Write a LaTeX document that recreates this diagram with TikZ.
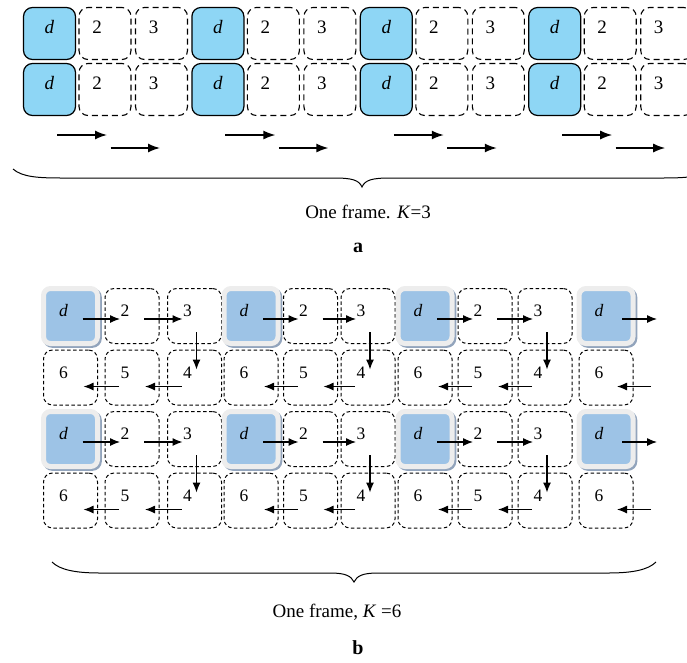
\documentclass[tikz,border=0pt]{standalone}
\usepackage{fontspec}
\setmainfont{Liberation Serif}
\usetikzlibrary{arrows.meta, positioning}

\definecolor{skyA}{HTML}{8ED6F5}
\definecolor{blueB}{HTML}{9DC3E6}
\definecolor{frameB}{HTML}{EDEDED}
\definecolor{shadeB}{HTML}{92A4BC}

\newcommand\sizeA{\fontsize{19}{19}\selectfont}
\newcommand\sizeB{\fontsize{17.5}{17.5}\selectfont}

\tikzset{
	tagA/.style 2 args={label={[xshift=#1,yshift=6.5pt,font=\sizeA]center:#2}},
	tagB/.style={label={[xshift=-7pt,yshift=5pt,font=\sizeB]center:#1}},
	dcellA/.style={rectangle, rounded corners=9pt, draw, line width=1.2pt, fill=skyA, minimum size=52pt},
	slotA/.style={rectangle, rounded corners=9pt, draw, dash pattern=on 6pt off 4pt, line width=1.1pt, minimum size=52pt},
	dcellB/.style={rectangle, rounded corners=7pt, draw=frameB, line width=5pt, fill=blueB, minimum width=54pt, minimum height=55pt,
		preaction={draw=shadeB, line width=5pt, transform canvas={xshift=1.8pt,yshift=-1.8pt}}},
	slotB/.style={rectangle, rounded corners=9pt, draw, dash pattern=on 3.5pt off 2.5pt, line width=1pt, minimum width=54pt, minimum height=55pt},
	kindd/.style={dcellB, tagB=\textit{d}},
	kind2/.style={slotB, tagB=2}, kind3/.style={slotB, tagB=3}, kind4/.style={slotB, tagB=4},
	kind5/.style={slotB, tagB=5}, kind6/.style={slotB, tagB=6},
	flowA/.style={-{Latex[length=12pt,width=9pt]}, line width=1.5pt},
	flowB/.style={-{Latex[length=10pt,width=8pt]}, line width=1.2pt},
	braceline/.style={line width=1pt}
}

\begin{document}
\begin{tikzpicture}[x=1pt, y=-1pt]
	\useasboundingbox (0,0) rectangle (687,662);
	\clip (0,0) rectangle (687,662);

	% part a: K=3
	\foreach \g in {0,...,3} {
		\pgfmathsetmacro\gx{168.4*\g}
		\node[dcellA, tagA={0pt}{\textit{d}}] (dT\g) at (49.5+\gx,33.5) {};
		\node[slotA, tagA={-8pt}{2}] (pT\g) at (105+\gx,33.5) {};
		\node[slotA, tagA={-8pt}{3}] (qT\g) at (161.5+\gx,33.5) {};
		\node[dcellA, tagA={0pt}{\textit{d}}] (dB\g) at (49.5+\gx,89.5) {};
		\node[slotA, tagA={-8pt}{2}] (pB\g) at (105+\gx,89.5) {};
		\node[slotA, tagA={-8pt}{3}] (qB\g) at (161.5+\gx,89.5) {};
		\draw[flowA] ([xshift=7.5pt,yshift=-45.5pt]dB\g.center) -- ([xshift=2pt,yshift=-45.5pt]pB\g.center);
		\draw[flowA] ([xshift=5.5pt,yshift=-58.5pt]pB\g.center) -- ([xshift=-1.5pt,yshift=-58.5pt]qB\g.center);
	}
	\draw[braceline] (13,169) .. controls (22,177) and (38,178) .. (62,178) -- (334,178)
		.. controls (352,178) and (359,180) .. (362,187) .. controls (365,180) and (372,178) .. (390,178)
		-- (662,178) .. controls (686,178) and (702,177) .. (711,169);
	\node[font=\fontsize{19}{22}\selectfont] (capA) at (368,212) {One frame. \textit{K}=3};
	\node[font=\bfseries\fontsize{20}{22}\selectfont] (partA) at (358,248) {a};

	% part b: K=6
	\foreach \c/\x/\t/\s in {0/70.5/d/6, 1/132/2/5, 2/194.5/3/4, 3/251/d/6, 4/310.5/2/5,
		5/368/3/4, 6/425/d/6, 7/485/2/5, 8/545/3/4, 9/606/d/6} {
		\node[kind\t] (r1c\c) at (\x,316) {};
		\node[kind\s] (r2c\c) at (\x,377.5) {};
		\node[kind\t] (r3c\c) at (\x,439) {};
		\node[kind\s] (r4c\c) at (\x,500.5) {};
	}
	\foreach \a/\b in {0/1, 1/2, 3/4, 4/5, 6/7, 7/8} {
		\draw[flowB] ([xshift=12pt,yshift=-3pt]r1c\a.center) -- ([xshift=-12pt,yshift=-3pt]r1c\b.center);
		\draw[flowB] ([xshift=12pt,yshift=-3pt]r3c\a.center) -- ([xshift=-12pt,yshift=-3pt]r3c\b.center);
		\draw[flowB] ([xshift=-13pt,yshift=-9pt]r2c\b.center) -- ([xshift=13pt,yshift=-9pt]r2c\a.center);
		\draw[flowB] ([xshift=-13pt,yshift=-9pt]r4c\b.center) -- ([xshift=13pt,yshift=-9pt]r4c\a.center);
	}
	\foreach \c in {2,5,8} {
		\draw[flowB] ([xshift=2pt,yshift=-16pt]r1c\c.center) -- ([xshift=2pt,yshift=8pt]r2c\c.center);
		\draw[flowB] ([xshift=2pt,yshift=-16pt]r3c\c.center) -- ([xshift=2pt,yshift=8pt]r4c\c.center);
	}
	\draw[flowB] ([xshift=16pt,yshift=-3pt]r1c9.center) -- ([xshift=51pt,yshift=-3pt]r1c9.center);
	\draw[flowB] ([xshift=16pt,yshift=-3pt]r3c9.center) -- ([xshift=51pt,yshift=-3pt]r3c9.center);
	\draw[flowB] ([xshift=45pt,yshift=-9pt]r2c9.center) -- ([xshift=11pt,yshift=-9pt]r2c9.center);
	\draw[flowB] ([xshift=45pt,yshift=-9pt]r4c9.center) -- ([xshift=11pt,yshift=-9pt]r4c9.center);
	\draw[braceline] (52,562) .. controls (60,570) and (76,573) .. (100,573) -- (330,573)
		.. controls (346,573) and (351,576) .. (354,582) .. controls (357,576) and (362,573) .. (378,573)
		-- (608,573) .. controls (632,573) and (648,570) .. (656,562);
	\node[font=\fontsize{19}{22}\selectfont] (capB) at (337,612) {One frame, \textit{K} =6};
	\node[font=\bfseries\fontsize{20}{22}\selectfont] (partB) at (358,648) {b};
\end{tikzpicture}
\end{document}
